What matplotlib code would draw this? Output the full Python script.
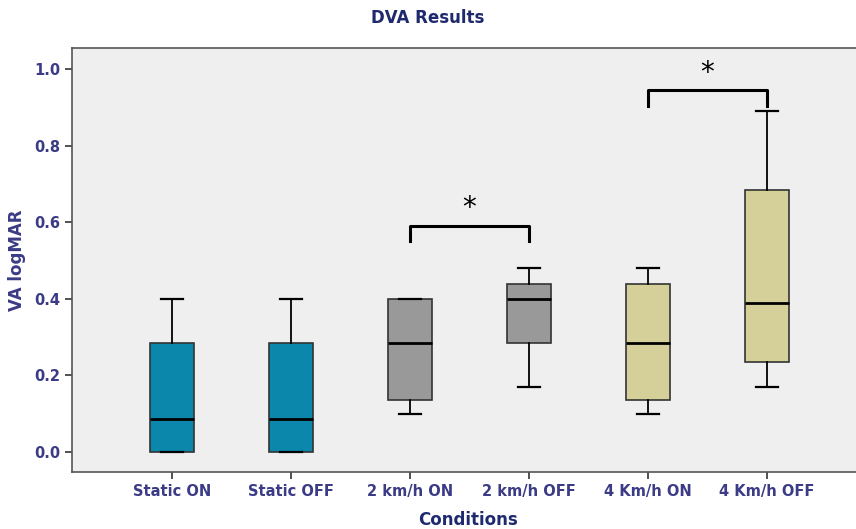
import matplotlib.pyplot as plt
from matplotlib import font_manager

conditions = ['Static ON', 'Static OFF', '2 km/h ON', '2 km/h OFF', '4 Km/h ON', '4 Km/h OFF']
whislo = [0.0, 0.0, 0.10, 0.17, 0.10, 0.17]
q1 = [0.0, 0.0, 0.135, 0.285, 0.135, 0.235]
med = [0.085, 0.085, 0.285, 0.40, 0.285, 0.39]
q3 = [0.285, 0.285, 0.40, 0.44, 0.44, 0.685]
whishi = [0.40, 0.40, 0.40, 0.48, 0.48, 0.89]
box_colors = ['#0a87aa', '#0a87aa', '#999999', '#999999', '#d5d09a', '#d5d09a']

# significance brackets: (left box, right box, bracket height)
sig_pairs = [(3, 4, 0.59), (5, 6, 0.945)]

# a condensed face if one is installed
names = {f.name for f in font_manager.fontManager.ttflist}
for fam in ['Liberation Sans Narrow', 'DejaVu Sans Condensed']:
    if fam in names:
        plt.rcParams['font.family'] = [fam, 'DejaVu Sans']
        break

navy = '#1f2a6e'
tick_col = '#3b3b86'

fig = plt.figure(figsize=(8.56, 5.29), dpi=100)
ax = fig.add_axes([72 / 856, 1 - 472 / 529, 1 - 72 / 856 + 0.01, (472 - 48) / 529])
ax.set_facecolor('#efefef')

stats = []
for i in range(len(conditions)):
    stats.append({'whislo': whislo[i], 'q1': q1[i], 'med': med[i],
                  'q3': q3[i], 'whishi': whishi[i], 'fliers': []})

pos = list(range(1, len(conditions) + 1))
bp = ax.bxp(stats, positions=pos, widths=0.37, patch_artist=True,
            boxprops=dict(edgecolor='#333333', linewidth=1.2),
            medianprops=dict(color='black', linewidth=2),
            whiskerprops=dict(color='black', linewidth=1.3),
            capprops=dict(color='black', linewidth=1.6), capwidths=0.18)
for patch, c in zip(bp['boxes'], box_colors):
    patch.set_facecolor(c)

for a, b, h in sig_pairs:
    ax.plot([a, a, b, b], [h - 0.04, h, h, h - 0.04], color='black', lw=2.2,
            solid_joinstyle='round')
    ax.text((a + b) / 2, h + 0.01, '*', ha='center', va='bottom', fontsize=20,
            color='black', family='DejaVu Sans')

ax.set_xlim(0.16, 6.82)
ax.set_ylim(-0.053, 1.056)
ax.set_yticks([0.0, 0.2, 0.4, 0.6, 0.8, 1.0])
ax.set_yticklabels(['0.0', '0.2', '0.4', '0.6', '0.8', '1.0'])
ax.set_xticks(pos)
ax.set_xticklabels(conditions)
ax.tick_params(axis='both', colors='#333333', length=5, width=1.2, direction='out')
for lab in ax.get_xticklabels() + ax.get_yticklabels():
    lab.set_color(tick_col)
    lab.set_fontweight('bold')
    lab.set_fontsize(10.5)
for s in ax.spines.values():
    s.set_color('#555555')
    s.set_linewidth(1.2)

ax.set_ylabel('VA logMAR', color=tick_col, fontweight='bold', fontsize=12, labelpad=6)
ax.set_xlabel('Conditions', color=navy, fontweight='bold', fontsize=12, labelpad=9)
fig.text(0.5, 1 - 18 / 529, 'DVA Results', ha='center', va='center', color=navy,
         fontweight='bold', fontsize=12)

fig.savefig('out.png', dpi=100, facecolor='white')
